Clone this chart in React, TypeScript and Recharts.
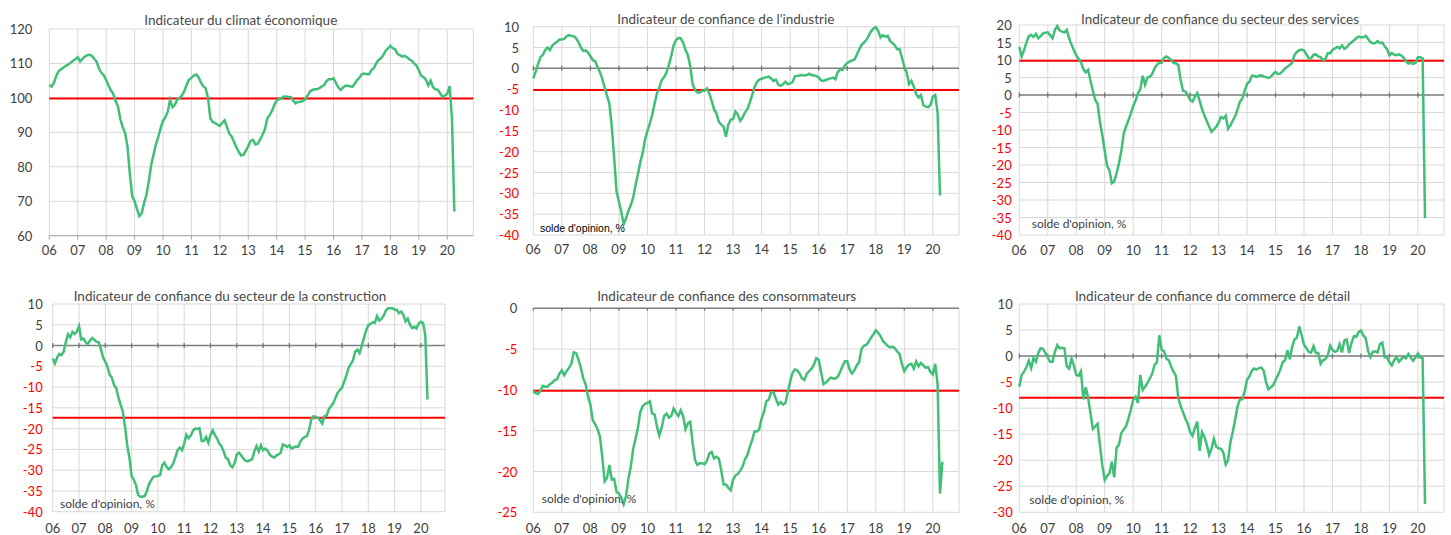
import React from "react";
import { CartesianGrid, Line, LineChart, ReferenceLine, XAxis, YAxis } from "recharts";

const GREEN = "#41BF78";
const RED = "#FF0000";
const TEXT = "#404040";
const FONT = "Lato, 'Noto Sans', sans-serif";

const yearLabels = ["06", "07", "08", "09", "10", "11", "12", "13", "14", "15", "16", "17", "18", "19", "20"];
const yearTicks = yearLabels.map((_, i) => i * 12);

// monthly values from jan 2006
const climat = [
  103.7, 103.3, 104.5, 106.5, 107.8, 108.3, 108.8, 109.3, 109.7, 110.2, 110.8, 111.2,
  111.8, 110.6, 111.3, 112.0, 112.4, 112.5, 112.2, 111.3, 110.5, 108.5, 107.3, 106.6,
  105.2, 103.6, 102.2, 101.2, 99.0, 97.5, 93.8, 91.5, 89.8, 86.0, 78.0, 71.5,
  70.0, 67.8, 65.7, 66.5, 69.5, 71.8, 75.7, 80.5, 83.5, 86.5, 88.7, 91.2,
  93.3, 94.4, 96.0, 99.4, 97.3, 98.0, 99.5, 100.0, 100.7, 102.0, 103.8, 105.3,
  105.8, 106.5, 106.8, 106.0, 104.5, 103.4, 102.8, 100.0, 94.0, 93.0, 92.7, 92.2,
  91.9, 92.8, 93.5, 91.5, 89.6, 88.8, 87.2, 85.6, 84.3, 83.3, 83.5, 84.7,
  86.0, 87.5, 87.8, 86.5, 86.7, 87.9, 89.3, 90.8, 94.0, 95.0, 96.2, 98.0,
  99.2, 99.7, 99.9, 100.4, 100.4, 100.3, 100.2, 99.2, 98.4, 98.8, 98.9, 99.1,
  99.6, 100.6, 101.8, 102.3, 102.5, 102.5, 102.8, 103.3, 103.7, 104.9, 105.4, 105.4,
  105.7, 104.4, 103.1, 102.3, 103.0, 103.5, 103.5, 103.4, 103.2, 104.2, 105.2, 105.9,
  106.9, 107.1, 106.9, 106.9, 108.1, 108.6, 110.0, 111.0, 111.5, 112.4, 113.7, 114.4,
  115.1, 114.4, 114.1, 112.7, 112.4, 112.0, 112.2, 111.8, 111.2, 110.8, 110.0, 109.4,
  108.0, 106.4, 106.0, 105.3, 103.6, 105.0, 103.1, 102.5, 102.4, 101.3, 100.3, 100.7,
  101.2, 103.4, 94.0, 67.0,
];

const industrie = [
  -2.4, -0.8, 1.0, 2.7, 3.2, 4.4, 5.0, 4.4, 5.5, 6.0, 6.4, 6.9,
  6.9, 7.1, 7.7, 8.0, 7.8, 7.7, 7.2, 6.3, 5.0, 4.2, 4.3, 3.8,
  2.9, 2.0, 1.7, 0.4, -0.9, -2.5, -4.6, -6.6, -8.5, -14.0, -21.5, -29.5,
  -32.0, -34.5, -37.4, -36.0, -34.2, -32.8, -31.0, -28.0, -25.4, -22.5, -20.3, -17.0,
  -15.0, -13.2, -11.2, -8.5, -6.0, -4.6, -2.8, -2.1, -1.0, 0.8, 3.0, 5.5,
  6.8, 7.3, 7.2, 6.2, 4.4, 3.2, 0.5, -3.8, -5.2, -5.8, -5.8, -5.4,
  -5.4, -4.8, -6.0, -7.8, -9.8, -10.8, -12.8, -13.5, -14.0, -16.4, -13.5, -12.3,
  -12.2, -10.4, -11.1, -12.6, -11.8, -10.6, -9.8, -8.3, -6.4, -4.6, -3.3, -2.7,
  -2.5, -2.3, -2.1, -2.0, -2.4, -3.0, -2.7, -3.9, -4.2, -3.8, -3.2, -3.8,
  -3.6, -3.3, -1.9, -1.8, -1.7, -1.6, -1.7, -1.6, -1.3, -1.6, -1.7, -1.8,
  -2.2, -2.9, -3.0, -2.8, -2.6, -2.4, -2.2, -2.6, -0.9, -0.3, -0.4, 0.7,
  1.3, 1.6, 1.9, 2.1, 3.2, 4.5, 5.6, 6.2, 6.8, 7.8, 8.9, 9.5,
  9.9, 9.0, 7.4, 8.0, 7.6, 7.8, 6.6, 6.1, 5.5, 4.6, 4.6, 2.6,
  0.4, -1.0, -3.8, -3.0, -4.4, -6.2, -7.0, -6.4, -8.8, -9.2, -9.3, -8.8,
  -6.8, -6.4, -10.6, -30.5,
];

const services = [
  13.8, 11.0, 12.8, 15.0, 16.8, 17.2, 16.6, 17.5, 16.2, 16.8, 17.6, 17.8,
  17.9, 17.1, 16.2, 18.6, 19.7, 18.4, 18.1, 17.9, 18.6, 16.2, 14.4, 12.8,
  11.3, 10.3, 9.3, 7.4, 6.5, 7.2, 4.1, 1.2, -1.4, -2.5, -7.8, -11.5,
  -16.0, -20.2, -21.6, -25.2, -24.7, -22.4, -19.5, -16.0, -11.0, -9.0, -7.2, -5.3,
  -3.2, -1.6, 0.5, 1.6, 5.5, 2.9, 5.0, 5.2, 6.0, 7.6, 8.6, 9.2,
  9.2, 10.6, 11.0, 10.6, 10.0, 9.2, 9.0, 8.6, 4.3, 1.2, 1.0, 0.0,
  -1.4, -1.9, -0.5, 0.6, -1.6, -4.0, -5.8, -7.4, -9.0, -10.5, -9.8, -9.1,
  -7.9, -6.3, -6.7, -5.9, -9.6, -8.7, -7.3, -6.0, -4.1, -1.9, -1.0, 1.2,
  3.2, 3.8, 5.5, 5.5, 5.2, 5.5, 5.6, 5.3, 5.1, 4.9, 5.2, 6.0,
  6.6, 6.0, 6.1, 6.8, 7.6, 8.1, 8.6, 9.2, 11.5, 12.3, 12.8, 13.0,
  12.7, 11.6, 10.5, 10.5, 11.5, 11.6, 11.0, 10.8, 10.0, 10.2, 11.9, 11.9,
  12.9, 13.3, 13.8, 13.3, 14.2, 13.2, 13.6, 14.5, 15.0, 15.6, 16.2, 16.7,
  16.5, 16.5, 16.9, 16.0, 15.1, 14.8, 14.8, 15.4, 14.8, 15.0, 13.9, 13.1,
  11.3, 12.0, 11.5, 11.4, 11.6, 11.3, 10.6, 9.6, 9.0, 9.2, 8.9, 9.2,
  10.8, 10.8, 10.5, -35.2,
];

const construction = [
  -3.1, -4.3, -2.9, -2.0, -2.3, -1.5, 0.9, 2.7, 2.0, 3.3, 2.8, 3.3,
  4.7, 1.5, 1.7, 0.8, 0.4, 1.2, 1.8, 1.4, 0.9, 0.8, -0.8, -2.9,
  -3.9, -5.1, -7.1, -7.7, -9.5, -10.3, -12.5, -14.3, -15.9, -19.5, -24.0, -27.0,
  -31.4, -32.3, -33.6, -36.0, -36.4, -36.4, -36.2, -35.0, -33.3, -32.4, -31.6, -31.5,
  -31.4, -31.2, -28.8, -28.2, -29.3, -29.8, -29.3, -28.4, -26.8, -25.2, -24.6, -25.2,
  -23.6, -21.5, -22.3, -21.7, -20.5, -20.0, -20.1, -19.9, -23.0, -23.0, -22.0, -23.4,
  -21.5, -20.4, -21.5, -22.4, -23.6, -24.2, -25.5, -27.0, -27.4, -28.8, -29.3, -28.3,
  -26.2, -25.8, -26.4, -27.2, -27.7, -27.9, -27.6, -27.4, -25.5, -24.2, -25.5, -24.0,
  -25.2, -24.8, -25.3, -26.2, -26.7, -27.0, -26.5, -26.2, -25.8, -23.8, -24.0, -24.4,
  -24.0, -24.8, -24.5, -24.3, -24.4, -23.1, -22.4, -22.0, -21.8, -20.3, -17.8, -17.0,
  -17.2, -17.4, -18.0, -18.8, -17.0, -16.9, -15.3, -14.6, -13.9, -12.6, -11.4, -10.7,
  -10.2, -8.7, -7.2, -5.4, -4.5, -3.6, -1.5, -1.0, -1.8, -0.1, 1.8, 3.6,
  4.9, 5.2, 5.6, 5.5, 7.1, 6.0, 6.4, 7.2, 8.4, 9.0, 9.0, 9.0,
  8.6, 8.6, 7.8, 8.2, 7.4, 5.8, 6.5, 5.0, 4.2, 4.5, 4.1, 5.3,
  5.7, 5.4, 2.5, -13.0,
];

const consommateurs = [
  -10.2, -10.4, -10.5, -10.1, -9.5, -9.6, -9.6, -9.3, -9.1, -8.8, -8.7, -8.0,
  -7.6, -8.2, -7.7, -7.3, -6.8, -5.4, -5.5, -6.3, -7.3, -8.6, -9.3, -10.8,
  -11.8, -13.7, -14.2, -14.8, -15.7, -18.2, -21.2, -20.8, -19.2, -21.0, -20.9, -22.5,
  -22.7, -23.2, -24.0, -23.0, -20.9, -19.4, -17.2, -16.0, -14.6, -12.7, -12.0, -11.7,
  -11.6, -11.4, -12.9, -13.0, -14.5, -15.6, -14.6, -13.2, -12.9, -13.4, -13.2, -12.3,
  -12.8, -13.2, -12.5, -13.2, -14.8, -14.1, -13.9, -16.5, -18.6, -19.2, -19.0, -19.0,
  -19.1, -18.7, -17.8, -17.6, -18.4, -18.2, -18.4, -19.8, -21.6, -21.6, -22.0, -22.3,
  -21.0, -20.5, -20.3, -19.9, -19.4, -18.5, -18.0, -17.0, -16.2, -15.1, -15.1, -14.8,
  -13.5, -12.7, -11.4, -11.2, -10.3, -10.3, -11.1, -11.8, -11.5, -11.8, -11.6, -10.3,
  -9.0, -7.9, -7.5, -7.6, -8.0, -8.6, -8.8, -8.0, -7.7, -7.4, -6.9, -6.1,
  -6.3, -7.8, -9.3, -9.1, -8.8, -8.5, -8.6, -8.6, -8.4, -7.8, -7.1, -6.5,
  -6.5, -7.5, -8.0, -7.6, -7.0, -6.6, -5.0, -4.6, -4.5, -4.1, -3.6, -3.2,
  -2.7, -3.0, -3.4, -4.0, -4.3, -4.6, -4.8, -4.7, -4.9, -5.3, -5.6, -6.8,
  -7.7, -7.2, -6.9, -6.8, -7.4, -6.5, -7.1, -6.7, -7.0, -7.3, -7.2, -7.8,
  -8.1, -6.8, -9.3, -22.7, -18.8,
];

const detail = [
  -5.9, -3.6, -3.0, -2.1, -0.9, -2.3, -0.4, -1.1, 0.6, 1.5, 1.4, 0.6,
  -0.3, -1.1, -1.1, 0.8, 2.1, 1.5, 1.6, 1.5, -2.0, -2.4, -0.5, -1.8,
  -3.6, -3.8, -2.9, -8.3, -6.0, -8.0, -11.0, -14.0, -13.5, -13.0, -17.2, -21.0,
  -23.8, -23.0, -22.5, -20.3, -23.3, -17.6, -17.0, -14.8, -14.1, -13.5, -12.0, -10.3,
  -8.4, -7.8, -9.0, -3.6, -6.5, -5.9, -5.2, -4.3, -3.4, -1.7, -1.2, 4.0,
  1.2, 0.9, -0.5, -0.8, -2.0, -3.0, -3.8, -8.0, -9.6, -10.8, -12.0, -13.0,
  -14.6, -15.3, -13.8, -12.6, -18.2, -14.6, -15.5, -17.0, -19.0, -17.8, -15.9, -17.4,
  -17.7, -17.8, -18.5, -20.8, -20.0, -16.5, -14.5, -12.2, -9.6, -8.3, -8.3, -6.8,
  -4.5, -3.9, -2.8, -2.4, -2.6, -2.3, -2.2, -2.8, -5.0, -6.4, -6.0, -5.6,
  -4.6, -3.7, -2.6, -1.2, -0.8, 1.1, -0.6, 1.8, 3.2, 3.5, 5.7, 4.0,
  2.2, 1.5, 0.8, 0.7, 1.9, 0.6, 0.6, -1.5, -0.8, -0.6, 0.1, 2.0,
  1.2, 0.8, 1.0, 2.3, 0.7, 3.0, 3.2, 0.6, 2.5, 3.8, 3.7, 4.6,
  4.9, 4.0, 3.4, 1.0, -0.2, 0.8, 0.9, 0.7, 2.3, 2.6, -0.2, -0.3,
  -1.2, -1.8, -0.8, -0.2, -1.1, -0.6, -0.1, -0.4, 0.4, -0.3, -0.9, -0.2,
  0.5, -0.3, -0.4, -28.4,
];

// long-term averages (red lines)
const averages = [99.8, -5.2, 9.8, -17.4, -10.1, -8.0];

const titles = [
  "Indicateur du climat économique",
  "Indicateur de confiance de l'industrie",
  "Indicateur de confiance du secteur des services",
  "Indicateur de confiance du secteur de la construction",
  "Indicateur de confiance des consommateurs",
  "Indicateur de confiance du commerce de détail",
];

const noteText = "solde d'opinion, %";

type Box = { left: number; top: number; width: number; height: number };
type Plot = { left: number; top: number; right: number; bottom: number };

type PanelProps = {
  title: string;
  values: number[];
  average: number;
  min: number;
  max: number;
  step: number;
  box: Box;
  plot: Plot;
  titleAt: [number, number];
  labelGap: number;
  xLabelDy: number;
  zeroLine: boolean;
  note?: { x: number; y: number; arial?: boolean };
};

const Panel = (p: PanelProps) => {
  const data = p.values.map((v, i) => ({ m: i, v }));
  const yTicks: number[] = [];
  for (let t = p.min; t <= p.max; t += p.step) yTicks.push(t);
  const plotH = p.plot.bottom - p.plot.top;
  // small year marks on the zero line, ~2.5px each side
  const half = (2.5 * (p.max - p.min)) / plotH;

  return (
    <div
      style={{
        position: "absolute",
        left: p.box.left,
        top: p.box.top,
        width: p.box.width,
        height: p.box.height,
      }}
    >
      <LineChart
        width={p.box.width}
        height={p.box.height}
        data={data}
        margin={{
          top: p.plot.top - p.box.top,
          right: p.box.left + p.box.width - p.plot.right,
          bottom: 0,
          left: 0,
        }}
      >
        <CartesianGrid stroke="#D9D9D9" strokeWidth={1} />
        <XAxis
          dataKey="m"
          type="number"
          domain={[0, 179]}
          ticks={yearTicks}
          interval={0}
          height={p.box.top + p.box.height - p.plot.bottom}
          tickLine={false}
          tickSize={0}
          tickMargin={0}
          axisLine={p.zeroLine ? false : { stroke: "#A6A6A6" }}
          tick={(props: any) => (
            <g>
              {!p.zeroLine && (
                <line x1={props.x} x2={props.x} y1={props.y} y2={props.y + 4} stroke="#A6A6A6" />
              )}
              <text
                x={props.x}
                y={props.y + p.xLabelDy}
                textAnchor="middle"
                dominantBaseline="central"
                fill={TEXT}
                fontSize={13}
                fontFamily={FONT}
              >
                {yearLabels[Math.round(props.payload.value / 12)]}
              </text>
            </g>
          )}
        />
        <YAxis
          type="number"
          domain={[p.min, p.max]}
          ticks={yTicks}
          interval={0}
          width={p.plot.left - p.box.left}
          axisLine={false}
          tickLine={false}
          tickSize={0}
          tickMargin={0}
          tick={(props: any) => (
            <text
              x={p.plot.left - p.box.left - p.labelGap}
              y={props.y}
              textAnchor="end"
              dominantBaseline="central"
              fill={props.payload.value < 0 ? RED : TEXT}
              fontSize={13}
              fontFamily={FONT}
            >
              {props.payload.value}
            </text>
          )}
        />
        {p.zeroLine && <ReferenceLine y={0} stroke="#808080" strokeWidth={1.5} />}
        {p.zeroLine &&
          yearTicks.map((t) => (
            <ReferenceLine
              key={t}
              segment={[
                { x: t, y: Math.min(half, p.max) },
                { x: t, y: -half },
              ]}
              stroke="#707070"
              strokeWidth={1.2}
            />
          ))}
        <ReferenceLine y={p.average} stroke={RED} strokeWidth={2} />
        <Line
          type="linear"
          dataKey="v"
          stroke={GREEN}
          strokeWidth={2.5}
          dot={false}
          isAnimationActive={false}
        />
      </LineChart>
      <div
        style={{
          position: "absolute",
          left: p.titleAt[0] - p.box.left,
          top: p.titleAt[1] - p.box.top - 9,
          height: 18,
          lineHeight: "18px",
          transform: "translateX(-50%)",
          whiteSpace: "nowrap",
          fontFamily: FONT,
          fontSize: 13.5,
          color: "#4a4a4a",
        }}
      >
        {p.title}
      </div>
      {p.note && (
        <div
          style={{
            position: "absolute",
            left: p.note.x - p.box.left,
            top: p.note.y - p.box.top - 8,
            height: 16,
            lineHeight: "16px",
            whiteSpace: "nowrap",
            fontFamily: p.note.arial ? "'Liberation Sans', Arial, sans-serif" : FONT,
            fontSize: p.note.arial ? 10.5 : 12,
            color: p.note.arial ? "#000" : TEXT,
          }}
        >
          {noteText}
        </div>
      )}
    </div>
  );
};

const App = () => {
  return (
    <div
      style={{
        position: "absolute",
        left: 0,
        top: 0,
        width: 1451,
        height: 535,
        background: "#fff",
        overflow: "hidden",
      }}
    >
      <Panel
        title={titles[0]}
        values={climat}
        average={averages[0]}
        min={60}
        max={120}
        step={10}
        box={{ left: 0, top: 0, width: 480, height: 270 }}
        plot={{ left: 49.3, top: 29, right: 473.3, bottom: 235.7 }}
        titleAt={[240.8, 19.5]}
        labelGap={17}
        xLabelDy={14.3}
        zeroLine={false}
      />
      <Panel
        title={titles[1]}
        values={industrie}
        average={averages[1]}
        min={-40}
        max={10}
        step={5}
        box={{ left: 480, top: 0, width: 490, height: 270 }}
        plot={{ left: 533.3, top: 26.7, right: 959, bottom: 235 }}
        titleAt={[725.8, 19]}
        labelGap={14.3}
        xLabelDy={14.3}
        zeroLine={true}
        note={{ x: 540, y: 228, arial: true }}
      />
      <Panel
        title={titles[2]}
        values={services}
        average={averages[2]}
        min={-40}
        max={20}
        step={5}
        box={{ left: 970, top: 0, width: 481, height: 270 }}
        plot={{ left: 1019.3, top: 25, right: 1444, bottom: 235 }}
        titleAt={[1220, 19]}
        labelGap={7.6}
        xLabelDy={15}
        zeroLine={true}
        note={{ x: 1031.7, y: 224 }}
      />
      <Panel
        title={titles[3]}
        values={construction}
        average={averages[3]}
        min={-40}
        max={10}
        step={5}
        box={{ left: 0, top: 270, width: 480, height: 265 }}
        plot={{ left: 52.7, top: 304, right: 445, bottom: 511.7 }}
        titleAt={[230, 296]}
        labelGap={10}
        xLabelDy={16.6}
        zeroLine={true}
        note={{ x: 60, y: 504 }}
      />
      <Panel
        title={titles[4]}
        values={consommateurs}
        average={averages[4]}
        min={-25}
        max={0}
        step={5}
        box={{ left: 480, top: 270, width: 490, height: 265 }}
        plot={{ left: 533.3, top: 308.3, right: 959, bottom: 512.3 }}
        titleAt={[726.7, 295.5]}
        labelGap={16}
        xLabelDy={16}
        zeroLine={true}
        note={{ x: 541.7, y: 499 }}
      />
      <Panel
        title={titles[5]}
        values={detail}
        average={averages[5]}
        min={-30}
        max={10}
        step={5}
        box={{ left: 970, top: 270, width: 481, height: 265 }}
        plot={{ left: 1019.3, top: 304, right: 1444, bottom: 512.3 }}
        titleAt={[1212.5, 296]}
        labelGap={6.6}
        xLabelDy={16}
        zeroLine={true}
        note={{ x: 1029.3, y: 500 }}
      />
    </div>
  );
};

export default App;
